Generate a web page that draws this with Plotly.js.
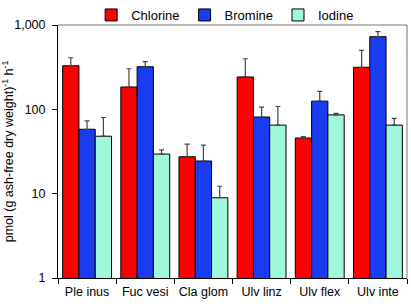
<!DOCTYPE html>
<html>
<head>
<meta charset="utf-8">
<script src="https://cdn.plot.ly/plotly-3.0.1.min.js"></script>
<style>html,body{margin:0;padding:0;background:#fff;}#chart{width:411px;height:304px;}</style>
</head>
<body>
<div id="chart"></div>
<script>
const categories = ['Ple inus', 'Fuc vesi', 'Cla glom', 'Ulv linz', 'Ulv flex', 'Ulv inte'];
const chlorine = [329, 184, 27.4, 242, 45.7, 315];
const chlorineErr = [80, 119, 11.3, 156, 1.8, 186];
const bromine = [58, 320, 24.4, 81, 125, 727];
const bromineErr = [15, 47, 13.3, 25, 38, 106];
const iodine = [48, 29.5, 8.95, 65, 86, 65];
const iodineErr = [32, 3.5, 3.3, 43, 3.6, 13];
const yTickVals = [1, 10, 100, 1000];
const yTickText = ['1', '10', '100', '1,000'];

function series(name, y, err, color) {
  return {
    type: 'bar', name: name, x: categories, y: y,
    marker: {color: color, line: {color: '#000', width: 1}},
    error_y: {type: 'data', symmetric: false, array: err,
      arrayminus: y.map(() => 0), color: '#444', thickness: 1.2, width: 2.5}
  };
}
const data = [
  series('Chlorine', chlorine, chlorineErr, '#ff0000'),
  series('Bromine', bromine, bromineErr, '#1a3cf0'),
  series('Iodine', iodine, iodineErr, '#a0f8dc')
];
const layout = {
  width: 411, height: 304,
  margin: {l: 58, r: 4, t: 25, b: 26, autoexpand: false},
  paper_bgcolor: '#fff', plot_bgcolor: '#fff',
  font: {family: 'Liberation Sans, Arial, sans-serif', size: 12, color: '#000'},
  barmode: 'group', bargap: 0.16, bargroupgap: 0,
  showlegend: true,
  legend: {orientation: 'h', x: 0.095, xanchor: 'left', yref: 'container', y: 1, yanchor: 'top',
    font: {size: 13}, bgcolor: 'rgba(0,0,0,0)', traceorder: 'normal'},
  xaxis: {type: 'category', showline: true, linecolor: '#000', linewidth: 1,
    ticks: 'outside', tickson: 'boundaries', ticklen: 5, tickcolor: '#000',
    tickangle: 0, showgrid: false, zeroline: false, tickfont: {size: 12.5},
    ticklabelstandoff: 2, automargin: false},
  yaxis: {type: 'log', range: [0, 3], tickvals: yTickVals, ticktext: yTickText,
    showline: true, linecolor: '#000', linewidth: 1, ticks: 'outside', ticklen: 5,
    tickcolor: '#000', showgrid: false, zeroline: false, tickfont: {size: 12.5},
    ticklabelstandoff: 4, automargin: false,
    title: {text: 'pmol (g ash-free dry weight)<sup>-1</sup> h<sup>-1</sup>',
      font: {size: 12.5}, standoff: 2}},
  shapes: [
    {type: 'line', xref: 'paper', yref: 'paper', x0: 0, x1: 1, y0: 1, y1: 1,
      line: {color: '#777', width: 1}},
    {type: 'line', xref: 'paper', yref: 'paper', x0: 1, x1: 1, y0: 0, y1: 1,
      line: {color: '#777', width: 1}}
  ]
};
Plotly.newPlot('chart', data, layout, {displayModeBar: false, staticPlot: true});
</script>
</body>
</html>
